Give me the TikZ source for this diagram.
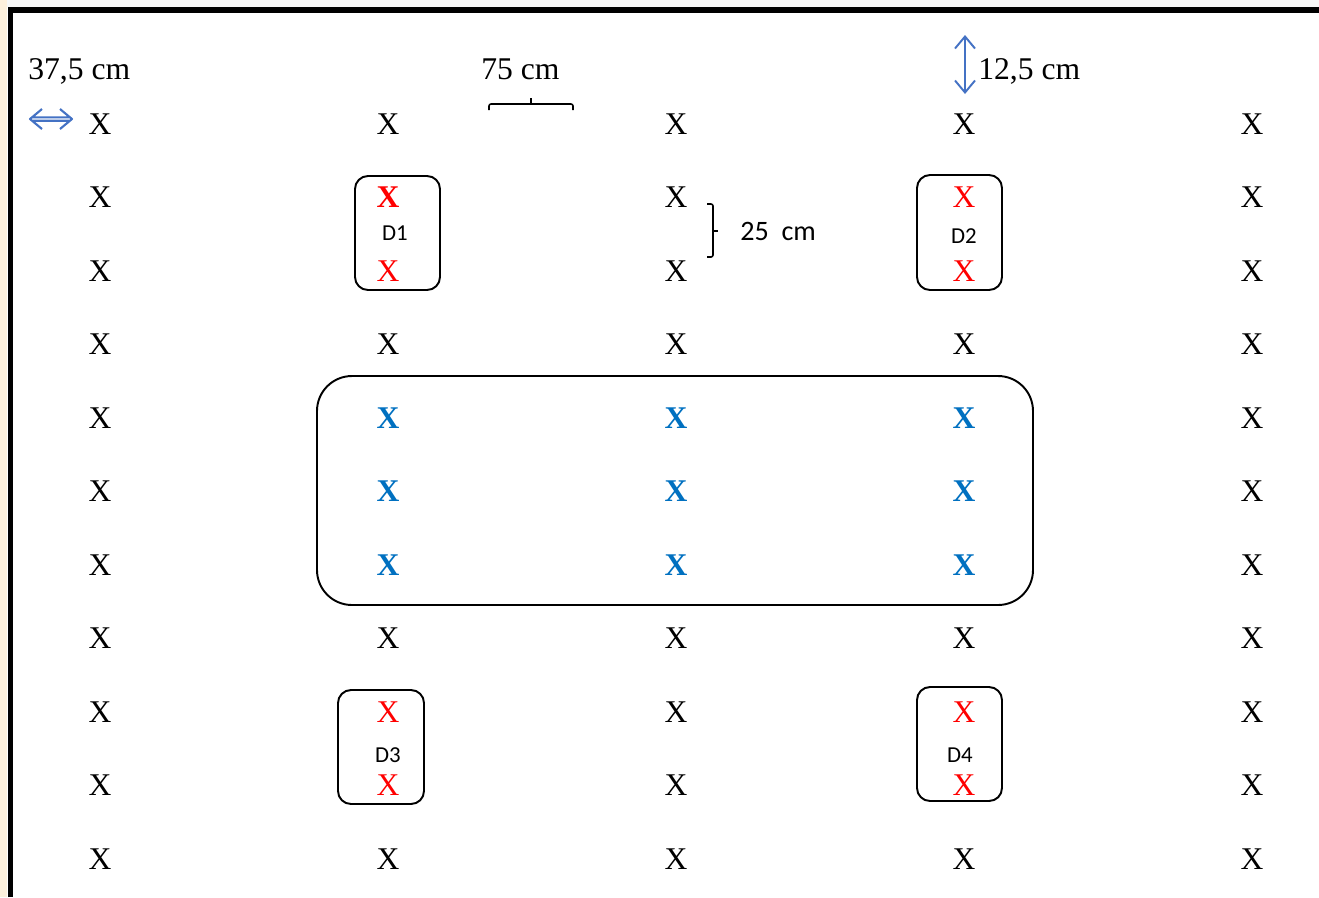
\documentclass[tikz,border=0pt]{standalone}
\usepackage{fontspec}
\setmainfont{Liberation Serif}
\newfontfamily\calibri{Carlito}
\usepackage{xcolor}
\usepackage{tikz}
\usetikzlibrary{arrows.meta}
\definecolor{xblue}{RGB}{0,112,192}
\definecolor{arrowblue}{RGB}{68,114,196}
\definecolor{paper}{RGB}{253,240,220}

\begin{document}
\begin{tikzpicture}[x=0.02cm, y=-0.02cm,
  cross0/.style={inner sep=0pt, font=\fontsize{18}{20}\selectfont},
  cross1/.style={cross0, text=red},
  cross2/.style={cross0, text=xblue, font=\fontsize{18}{20}\selectfont\bfseries},
  cross3/.style={cross2, text=red},
  dim/.style={inner sep=0pt, anchor=base west, font=\fontsize{18}{20}\selectfont},
  dlabel/.style={inner sep=0pt, anchor=base, font=\calibri\fontsize{13}{15}\selectfont},
  dbox/.style={line width=1.1pt, rounded corners=0.26cm},
  brace/.style={line width=0.9pt, rounded corners=0.04cm}]
  \useasboundingbox (0,0) rectangle (1319,897);
  % page edge and frame
  \fill[paper] (0,0) rectangle (7,897);
  \fill[gray!6] (7,0) rectangle (1319,7);
  \draw[line width=0.12cm] (10.5,897) -- (10.5,10) -- (1319,10);

  % planting grid
  \foreach \c in {1,...,5}{
    \foreach \r in {1,...,11}{
      \pgfmathtruncatemacro\kind{(\c==2 && \r==2) ? 3 : (((\c==2 || \c==4) && (\r==2 || \r==3 || \r==9 || \r==10)) ? 1 : ((\c>1 && \c<5 && \r>4 && \r<8) ? 2 : 0))}
      \node[cross\kind] (x\c-\r) at ({100+288*(\c-1)}, {124+73.5*(\r-1)}) {X};
    }
  }

  % distances
  \node[dim] (w375) at (28,79) {37,5 cm};
  \node[dim] (w75) at (481,79) {75 cm};
  \node[dim] (h125) at (978,79) {12,5 cm};
  \node[inner sep=0pt, anchor=base west, font=\calibri\fontsize{16}{18}\selectfont]
       (v25) at (740,240) {25~~cm};
  \draw[brace] (489,110) -- (489,104) -- (573,104) -- (573,110);
  \draw[brace] (531,104) -- (531,98);
  \draw[brace] (707,204) -- (713,204) -- (713,257) -- (707,257);
  \draw[brace] (713,231) -- (718,231);

  \coordinate (up) at (965,35);
  \coordinate (dn) at (965,94);
  \draw[arrowblue, line width=1.1pt,
        {Straight Barb[length=2.4mm,width=4mm]}-{Straight Barb[length=2.4mm,width=4mm]}] (up) -- (dn);
  \draw[arrowblue, line width=1.2pt, line join=round]
       (42,109) -- (30,119) -- (42,129) (60,109) -- (72,119) -- (60,129)
       (32,117.3) -- (70,117.3) (32,120.7) -- (70,120.7);

  % plots
  \draw[dbox] (355,176) rectangle (440,290);
  \node[dlabel] (d1) at (395,240) {D1};
  \draw[dbox] (917,175) rectangle (1002,290);
  \node[dlabel] (d2) at (964,243) {D2};
  \draw[dbox] (338,690) rectangle (424,804);
  \node[dlabel] (d3) at (388,762) {D3};
  \draw[dbox] (917,687) rectangle (1002,801);
  \node[dlabel] (d4) at (960,762) {D4};
  \draw[line width=1.1pt, rounded corners=0.7cm] (317,376) rectangle (1033,605);
\end{tikzpicture}
\end{document}
